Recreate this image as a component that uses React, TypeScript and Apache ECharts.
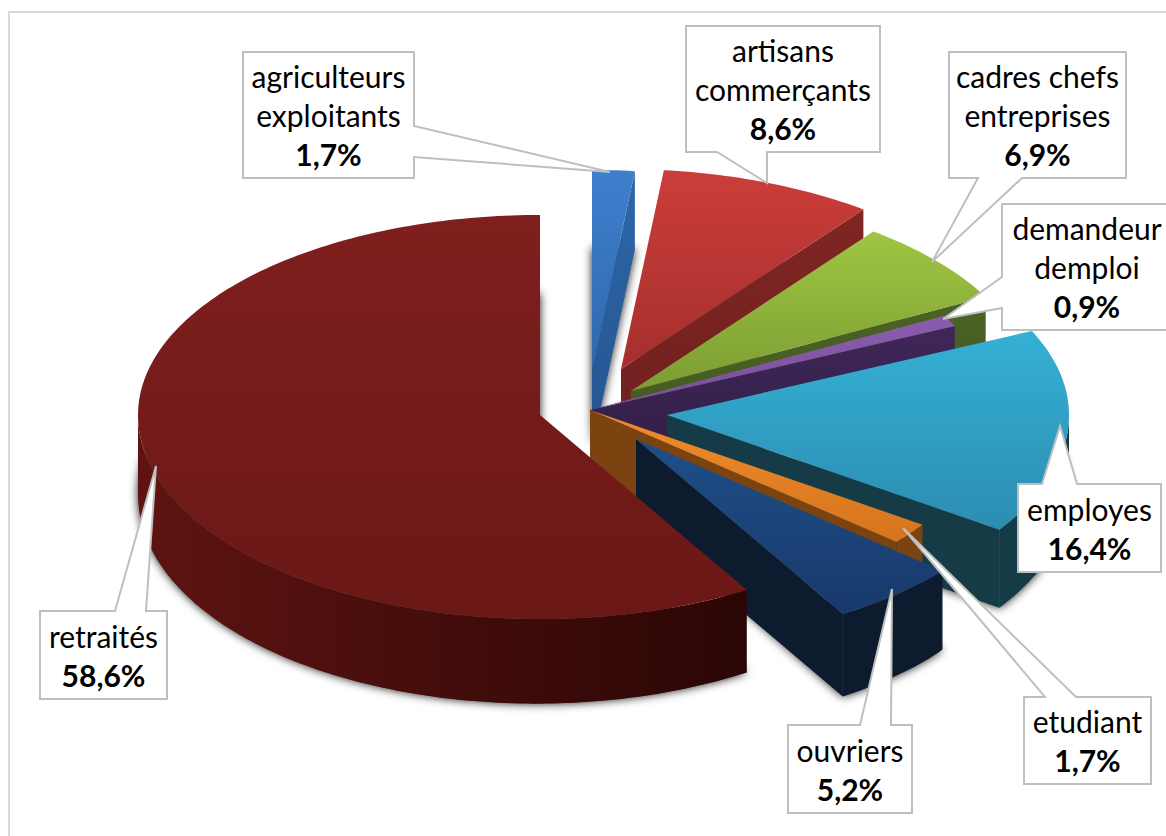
import React, { useEffect, useRef } from "react";
import * as echarts from "echarts";

// ---- data ----
const categories = [
  "agriculteurs exploitants",
  "artisans commerçants",
  "cadres chefs entreprises",
  "demandeur demploi",
  "employes",
  "etudiant",
  "ouvriers",
  "retraités",
];
const labelLines = [
  ["agriculteurs", "exploitants"],
  ["artisans", "commerçants"],
  ["cadres chefs", "entreprises"],
  ["demandeur", "demploi"],
  ["employes"],
  ["etudiant"],
  ["ouvriers"],
  ["retraités"],
];
const shares = [1.7, 8.6, 6.9, 0.9, 16.4, 1.7, 5.2, 58.6];

// ---- layout and style ----
const W = 1166;
const H = 836;
const RX = 402;
const RY_BACK = 200;
const RY_FRONT = 204;
const explodedCentres = [
  [592, 370], [621, 369], [631, 391], [590, 410],
  [667, 415], [590, 410], [636, 439], [540, 415],
];
const topColours = [
  ["#3e7fcd", "#2f68ad"], ["#cb3d3a", "#a52f2d"], ["#9fc642", "#7c9c33"], ["#8a5cae", "#7a4f9c"],
  ["#35b0d5", "#2c8db1"], ["#f08c2b", "#d6741d"], ["#1f4f88", "#18396b"], ["#7f1f1e", "#6a1816"],
];
const wallColours = [
  ["#2d66a8", "#245690"], ["#7f2624", "#6f1f1f"], ["#4a6224", "#445a20"], ["#3f2758", "#2f1c44"],
  ["#153b47", "#153b47"], ["#7a4310", "#7a4310"], ["#0c1b2e", "#0c1b2e"], ["#5e1411", "#2a0605"],
];
// callouts: box x1,y1,x2,y2, wedge side and two wedge roots along it, tip
const boxes = [
  [243, 52, 414, 178], [686, 26, 880, 152], [949, 52, 1126, 178], [1002, 204, 1172, 330],
  [1018, 484, 1161, 572], [1024, 697, 1151, 784], [788, 725, 912, 813], [40, 611, 167, 699],
];
const wedges: any[] = [
  ["right", 126, 157, 610, 172], ["bottom", 717, 767, 767, 183], ["bottom", 978, 1022, 932, 262], ["left", 277, 308, 943, 319],
  ["top", 1042, 1077, 1060, 426], ["top", 1045, 1076, 903, 528], ["top", 860, 891, 892, 589], ["top", 115, 146, 156, 466],
];
const FONT = "Lato, Carlito, sans-serif";
const FONT_SIZE = 30;
const LINE_H = 39;
const BORDER = "#bfbfbf";

const total = shares.reduce((a, b) => a + b, 0);
const D2R = Math.PI / 180;
// height of the extrusion: a little taller towards the viewer
const depthAt = (deg: number) => {
  const t = Math.cos((((deg - 200) * 90) / 70) * D2R);
  const inFront = deg > 130 && deg < 270 ? Math.max(0, t) : 0;
  return 78 + 7 * Math.sqrt(inFront);
};
const pt = (c: number[], deg: number, drop = false) => {
  const k = Math.cos(deg * D2R);
  return [
    c[0] + RX * Math.sin(deg * D2R),
    c[1] - (k < 0 ? RY_FRONT : RY_BACK) * k + (drop ? depthAt(deg) : 0),
  ];
};
const arc = (c: number[], a: number, b: number, drop = false) => {
  const out: number[][] = [];
  const n = Math.max(2, Math.ceil(Math.abs(b - a)));
  for (let i = 0; i <= n; i++) out.push(pt(c, a + ((b - a) * i) / n, drop));
  return out;
};
const vGrad = (c: string[]) =>
  new echarts.graphic.LinearGradient(0, 0, 0, 1, [
    { offset: 0, color: c[0] },
    { offset: 1, color: c[1] },
  ]);
const hGrad = (c: string[]) =>
  new echarts.graphic.LinearGradient(0, 0, 1, 0, [
    { offset: 0, color: c[0] },
    { offset: 1, color: c[1] },
  ]);

function renderSlice(params: any, api: any) {
  const i = params.dataIndex;
  let before = 0;
  for (let k = 0; k < i; k++) before += shares[k];
  const a0 = (before / total) * 360;
  const a1 = ((before + api.value(0)) / total) * 360;
  const c = explodedCentres[i];
  const children: any[] = [];
  const poly = (points: number[][], fill: any, extra: any = {}) =>
    children.push({ type: "polygon", shape: { points }, style: { fill, ...extra } });

  // soft drop shadow of the bottom face
  poly([[c[0], c[1] + 78], ...arc(c, a0, a1, true)], "#666666", {
    shadowBlur: 10,
    shadowColor: "rgba(0,0,0,0.9)",
  });
  // outer wall, only its front part
  const f0 = Math.max(a0, 90);
  const f1 = Math.min(a1, 270);
  if (f1 > f0) {
    poly([...arc(c, f0, f1), ...arc(c, f1, f0, true)], hGrad(wallColours[i]));
  }
  // radial wall on the clockwise side, when it faces the viewer
  if (Math.sin(a1 * D2R) > 0.001) {
    const e = pt(c, a1);
    const b = pt(c, a1, true);
    poly([c, e, b, [c[0], c[1] + (b[1] - e[1])]], vGrad(wallColours[i]));
  }
  // top face
  poly([c, ...arc(c, a0, a1)], vGrad(topColours[i]));
  return { type: "group", children };
}

function callout(i: number) {
  const [x1, y1, x2, y2] = boxes[i];
  const [side, r0, r1, tx, ty] = wedges[i];
  const tip = [tx, ty];
  let points: number[][];
  if (side === "right") points = [[x1, y1], [x2, y1], [x2, r0], tip, [x2, r1], [x2, y2], [x1, y2]];
  else if (side === "left") points = [[x1, y1], [x2, y1], [x2, y2], [x1, y2], [x1, r1], tip, [x1, r0]];
  else if (side === "top") points = [[x1, y1], [r0, y1], tip, [r1, y1], [x2, y1], [x2, y2], [x1, y2]];
  else points = [[x1, y1], [x2, y1], [x2, y2], [r1, y2], tip, [r0, y2], [x1, y2]];
  const cx = (x1 + x2) / 2;
  const lines = labelLines[i];
  const count = lines.length + 1;
  const startY = (y1 + y2) / 2 - ((count - 1) * LINE_H) / 2;
  const els: any[] = [
    { type: "polygon", z: 100, shape: { points }, style: { fill: "#ffffff", stroke: BORDER, lineWidth: 2, lineJoin: "miter" } },
  ];
  lines.forEach((t, k) =>
    els.push({
      type: "text", z: 101, x: cx, y: startY + k * LINE_H,
      style: { text: t, fill: "#000000", font: `${FONT_SIZE}px ${FONT}`, textAlign: "center", textVerticalAlign: "middle" },
    })
  );
  els.push({
    type: "text", z: 101, x: cx, y: startY + lines.length * LINE_H,
    style: {
      text: `${shares[i].toFixed(1).replace(".", ",")}%`,
      fill: "#000000",
      font: `bold ${FONT_SIZE}px ${FONT}`,
      textAlign: "center",
      textVerticalAlign: "middle",
    },
  });
  return els;
}

export default function App() {
  const ref = useRef<HTMLDivElement>(null);
  useEffect(() => {
    document.body.style.margin = "0";
    const chart = echarts.init(ref.current!, undefined, { renderer: "svg" });
    chart.setOption({
      animation: false,
      backgroundColor: "#ffffff",
      graphic: [
        { type: "polyline", z: 1, shape: { points: [[9, 836], [9, 12], [1166, 12]] }, style: { stroke: "#d9d9d9", lineWidth: 2, fill: "none" } },
        ...categories.flatMap((_, i) => callout(i)),
      ],
      series: [
        {
          type: "custom",
          coordinateSystem: "none",
          renderItem: renderSlice,
          data: shares.map((v, i) => ({ name: categories[i], value: [v] })),
          silent: true,
          clip: false,
        },
      ],
    });
    return () => chart.dispose();
  }, []);
  return <div ref={ref} style={{ width: W, height: H }} />;
}
